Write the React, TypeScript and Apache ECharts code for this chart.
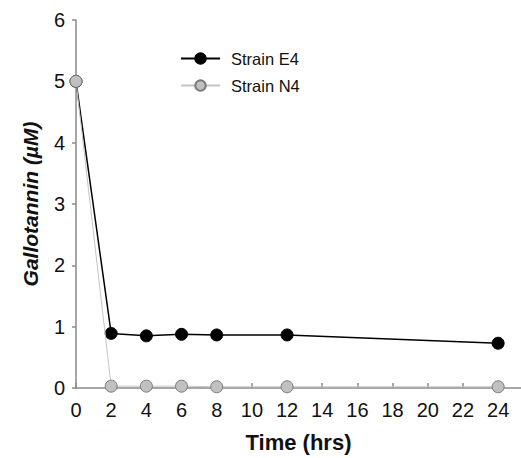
import React, { useEffect, useRef } from "react";
import * as echarts from "echarts";

const hours = [0, 2, 4, 6, 8, 12, 24];
const e4Values = [5.0, 0.89, 0.85, 0.875, 0.865, 0.865, 0.73];
const n4Values = [5.0, 0.03, 0.03, 0.03, 0.02, 0.02, 0.02];
const xTicks = [0, 2, 4, 6, 8, 10, 12, 14, 16, 18, 20, 22, 24];
const yTicks = [0, 1, 2, 3, 4, 5, 6];

const FONT = "'Liberation Sans', Arial, sans-serif";

export default function App() {
  const ref = useRef<HTMLDivElement>(null);
  useEffect(() => {
    if (!ref.current) return;
    const chart = echarts.init(ref.current, null, { renderer: "svg" });
    const axisColor = "#8a8a8a";
    chart.setOption({
      animation: false,
      backgroundColor: "#ffffff",
      textStyle: { fontFamily: FONT },
      grid: { left: 76, right: 0, top: 20, bottom: 66, containLabel: false },
      legend: {
        orient: "vertical",
        left: 175,
        top: 45,
        itemWidth: 39,
        itemHeight: 13,
        itemGap: 10,
        textStyle: { fontFamily: FONT, fontSize: 16.5, color: "#111", padding: [0, 0, 0, 6] },
        data: ["Strain E4", "Strain N4"],
      },
      xAxis: {
        type: "value",
        min: 0,
        max: 25.3,
        interval: 2,
        name: "Time (hrs)",
        nameLocation: "middle",
        nameGap: 43,
        nameTextStyle: { fontFamily: FONT, fontSize: 22, fontWeight: "bold", color: "#111" },
        axisLine: { show: true, lineStyle: { color: axisColor, width: 1.5 } },
        axisTick: { show: true, inside: true, length: 5, lineStyle: { color: axisColor, width: 1.5 }, customValues: xTicks },
        axisLabel: {
          fontFamily: FONT,
          fontSize: 20,
          color: "#111",
          margin: 12,
          customValues: xTicks,
          formatter: (v: number) => (xTicks.includes(v) ? String(v) : ""),
        },
        splitLine: { show: false },
      },
      yAxis: {
        type: "value",
        min: 0,
        max: 6,
        interval: 1,
        name: "Gallotannin (µM)",
        nameLocation: "middle",
        nameRotate: 90,
        nameGap: 35,
        nameTextStyle: { fontFamily: FONT, fontSize: 21, fontWeight: "bold", fontStyle: "italic", color: "#111" },
        axisLine: { show: true, lineStyle: { color: axisColor, width: 1.5 } },
        axisTick: { show: true, inside: false, length: 4, lineStyle: { color: axisColor, width: 1.5 } },
        axisLabel: {
          fontFamily: FONT,
          fontSize: 20,
          color: "#111",
          margin: 11,
          formatter: (v: number) => (yTicks.includes(v) ? String(v) : ""),
        },
        splitLine: { show: false },
      },
      series: [
        {
          name: "Strain E4",
          type: "line",
          data: hours.map((h, i) => [h, e4Values[i]]),
          symbol: "circle",
          symbolSize: 12,
          lineStyle: { color: "#000", width: 1.5 },
          itemStyle: { color: "#000", borderColor: "#000", borderWidth: 1 },
          z: 2,
        },
        {
          name: "Strain N4",
          type: "line",
          data: hours.map((h, i) => [h, n4Values[i]]),
          symbol: "circle",
          symbolSize: 12,
          lineStyle: { color: "#c4c4c4", width: 1 },
          itemStyle: { color: "#c0c0c0", borderColor: "#7a7a7a", borderWidth: 1 },
          z: 3,
        },
      ],
    });
    return () => chart.dispose();
  }, []);
  return (
    <div
      ref={ref}
      style={{ position: "fixed", left: 0, top: 0, width: 521, height: 458, background: "#fff" }}
    />
  );
}
